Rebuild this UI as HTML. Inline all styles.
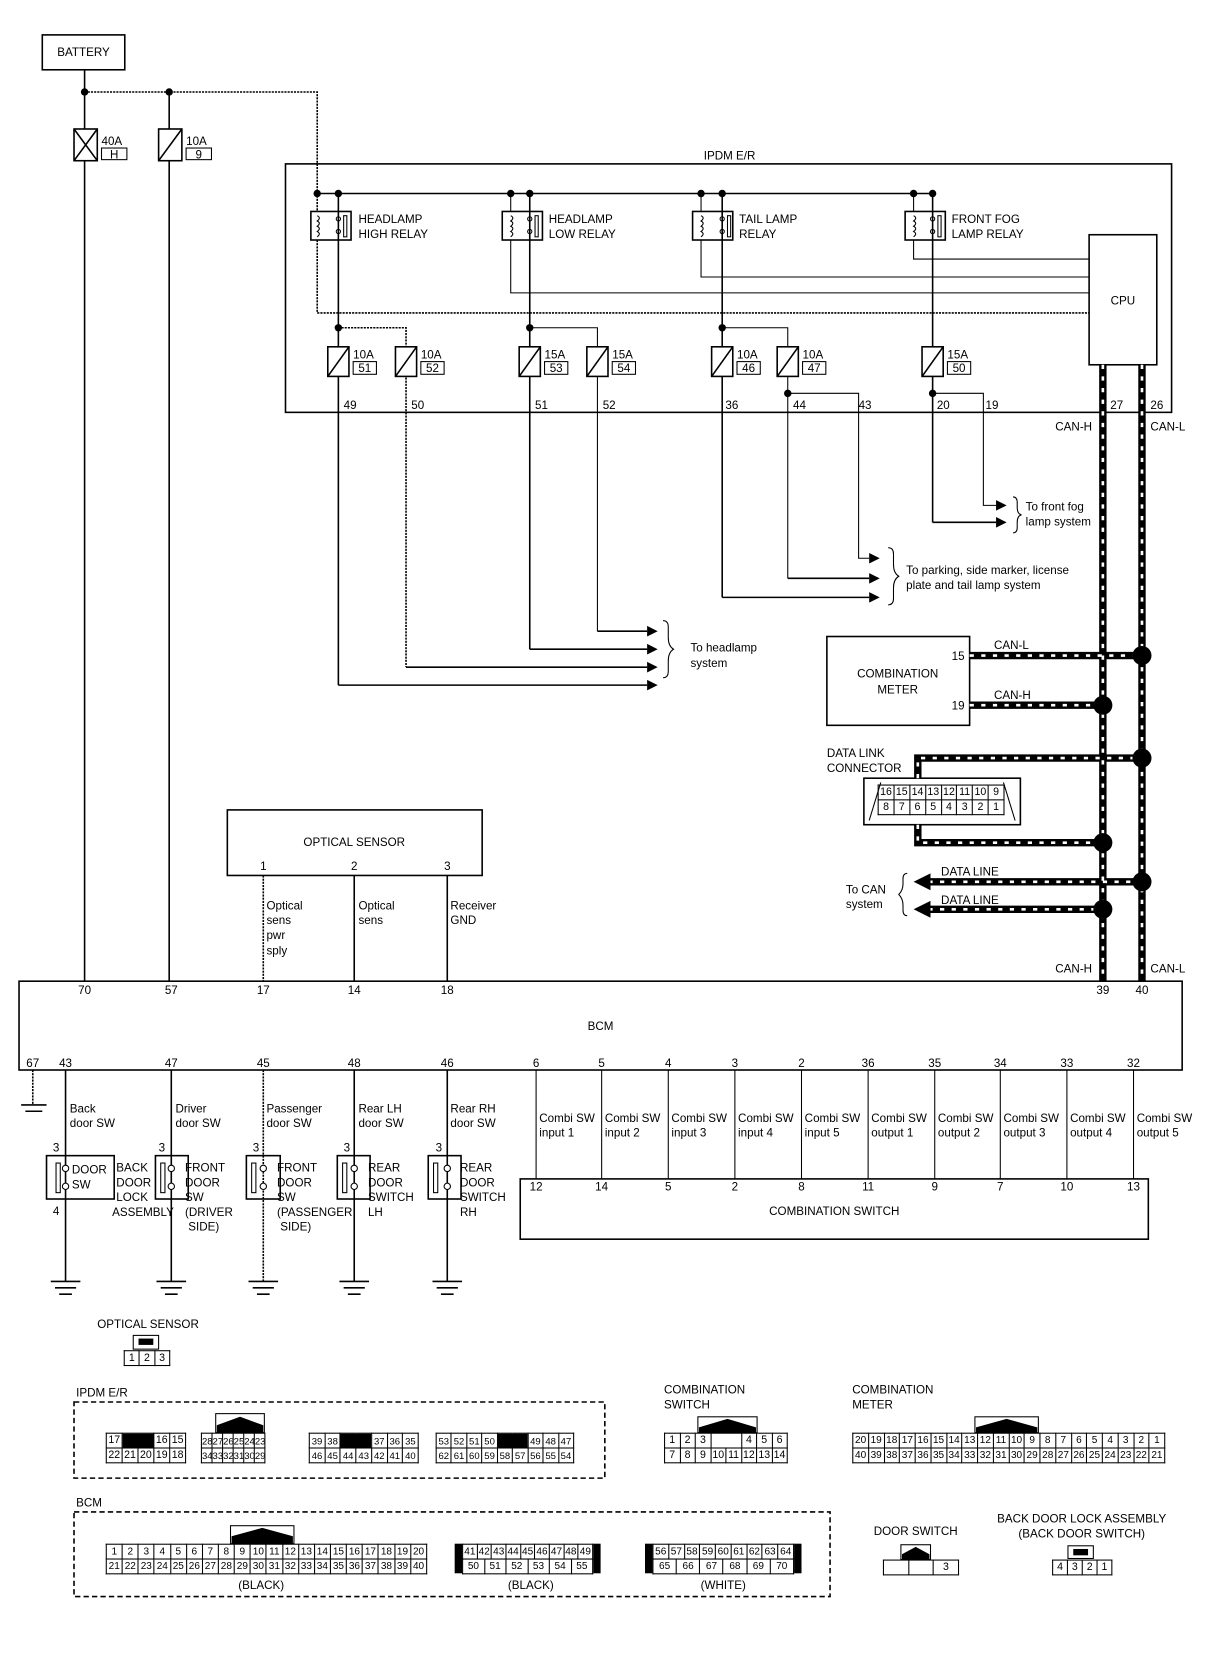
<!DOCTYPE html>
<html><head><meta charset="utf-8"><style>
html,body{margin:0;padding:0;background:#fff;}
#w{position:relative;width:1150px;height:1570px;transform:scale(1.05739,1.05732);transform-origin:0 0;overflow:hidden;font-family:"Liberation Sans",sans-serif;}
svg{position:absolute;left:0;top:0;}
svg text{font-family:"Liberation Sans",sans-serif;font-size:11px;fill:#000;}
table{position:absolute;border-collapse:collapse;table-layout:fixed;font-size:10px;font-family:"Liberation Sans",sans-serif;}
td{border:1px solid #000;text-align:center;padding:0;height:13px;line-height:12px;overflow:hidden;}
td.b{background:#000;}
td.n{border:none;}
</style></head><body><div id="w">
<svg width="1150" height="1570" viewBox="0 0 1150 1570">
<g stroke="#000" fill="none" stroke-width="1.5">
<!-- battery -->
<rect x="40" y="33" width="78" height="33"/>
<line x1="80" y1="66" x2="80" y2="928"/>
<line x1="160" y1="87" x2="160" y2="928"/>
<polyline points="80,87 300,87 300,296 1030,296" stroke-dasharray="2 1"/>
<!-- fuses -->
<rect x="70" y="122" width="22" height="30" fill="#fff"/><line x1="70" y1="122" x2="92" y2="152"/><line x1="92" y1="122" x2="70" y2="152"/>
<rect x="150" y="122" width="22" height="30" fill="#fff"/><line x1="172" y1="122" x2="150" y2="152"/>
<rect x="96" y="140" width="24" height="11" stroke-width="1"/><rect x="176" y="140" width="24" height="11" stroke-width="1"/>
<!-- IPDM -->
<rect x="270" y="155" width="838" height="235"/>
<line x1="300" y1="183" x2="882" y2="183"/>
<polyline points="483,183 483,277 1030,277" stroke-width="1"/>
<polyline points="663,183 663,262 1030,262" stroke-width="1"/>
<polyline points="864,183 864,245 1030,245" stroke-width="1"/>
<rect x="1030" y="222" width="64" height="123"/>
<!-- relays -->
<g fill="#fff">
<rect x="294" y="200" width="38" height="27"/><rect x="475" y="200" width="38" height="27"/>
<rect x="655" y="200" width="38" height="27"/><rect x="856" y="200" width="38" height="27"/>
</g>
<!-- contact wires -->
<line x1="320" y1="183" x2="320" y2="648"/>
<polyline points="320,310 384,310 384,631" stroke-dasharray="2 1"/>
<line x1="501" y1="183" x2="501" y2="614"/>
<polyline points="501,310 565,310 565,597" stroke-width="1"/>
<line x1="683" y1="183" x2="683" y2="565"/>
<polyline points="683,310 745,310 745,547" stroke-width="1"/>
<polyline points="745,372 812,372 812,528 822,528" stroke-width="1"/>
<line x1="882" y1="183" x2="882" y2="494"/>
<polyline points="882,372 930,372 930,478 942,478" stroke-width="1"/>
<line x1="882" y1="494" x2="942" y2="494"/>
<line x1="745" y1="547" x2="822" y2="547"/><line x1="683" y1="565" x2="822" y2="565"/>
<line x1="565" y1="597" x2="612" y2="597"/><line x1="501" y1="614" x2="612" y2="614"/>
<line x1="384" y1="631" x2="612" y2="631"/><line x1="320" y1="648" x2="612" y2="648"/>
<!-- small fuses -->
<g fill="#fff">
<rect x="310" y="328" width="20" height="28"/><rect x="374" y="328" width="20" height="28"/>
<rect x="491" y="328" width="20" height="28"/><rect x="555" y="328" width="20" height="28"/>
<rect x="673" y="328" width="20" height="28"/><rect x="735" y="328" width="20" height="28"/>
<rect x="872" y="328" width="20" height="28"/>
</g>
<line x1="330" y1="328" x2="310" y2="356"/><line x1="394" y1="328" x2="374" y2="356"/>
<line x1="511" y1="328" x2="491" y2="356"/><line x1="575" y1="328" x2="555" y2="356"/>
<line x1="693" y1="328" x2="673" y2="356"/><line x1="755" y1="328" x2="735" y2="356"/>
<line x1="892" y1="328" x2="872" y2="356"/>
<g stroke-width="1">
<rect x="334" y="342" width="22" height="12"/><rect x="398" y="342" width="22" height="12"/>
<rect x="515" y="342" width="22" height="12"/><rect x="579" y="342" width="22" height="12"/>
<rect x="697" y="342" width="22" height="12"/><rect x="759" y="342" width="22" height="12"/>
<rect x="896" y="342" width="22" height="12"/>
</g>
<!-- braces -->
<path d="M627,587 q5,0 5,6 v10 q0,8 5,11 q-5,3 -5,11 v10 q0,6 -5,6" stroke-width="1"/>
<path d="M840,518 q5,0 5,6 v10 q0,8 5,11 q-5,3 -5,11 v10 q0,6 -5,6" stroke-width="1"/>
<path d="M958,470 q4,0 4,5 v5 q0,6 4,7 q-4,1 -4,7 v5 q0,5 -4,5" stroke-width="1"/>
<path d="M858,826 q-4,0 -4,5 v5 q0,6 -4,10 q4,4 4,10 v5 q0,5 4,5" stroke-width="1"/>
<!-- optical sensor -->
<rect x="215" y="766" width="241" height="62"/>
<line x1="249" y1="828" x2="249" y2="928" stroke-dasharray="2 1"/>
<line x1="335" y1="828" x2="335" y2="928"/>
<line x1="423" y1="828" x2="423" y2="928"/>
<!-- comb meter -->
<rect x="782" y="602" width="135" height="84"/>
<rect x="817" y="736" width="148" height="44"/>
<!-- BCM -->
<rect x="18" y="928" width="1100" height="84"/>
<line x1="31" y1="1012" x2="31" y2="1045" stroke-dasharray="2 1"/>
<line x1="20" y1="1045" x2="44" y2="1045"/><line x1="24" y1="1051" x2="40" y2="1051"/>
<!-- door switches -->
<line x1="62" y1="1012" x2="62" y2="1212"/>
<line x1="162" y1="1012" x2="162" y2="1212"/>
<line x1="249" y1="1012" x2="249" y2="1212" stroke-dasharray="2 1"/>
<line x1="335" y1="1012" x2="335" y2="1212"/>
<line x1="423" y1="1012" x2="423" y2="1212"/>
<rect x="44" y="1093" width="64" height="41"/>
<rect x="147" y="1093" width="31" height="41"/>
<rect x="233" y="1093" width="32" height="41"/>
<rect x="319" y="1093" width="31" height="41"/>
<rect x="405" y="1093" width="31" height="41"/>
<g stroke-width="1">
<rect x="53" y="1100" width="4" height="28"/><rect x="152" y="1100" width="4" height="28"/>
<rect x="238" y="1100" width="4" height="28"/><rect x="324" y="1100" width="4" height="28"/>
<rect x="410" y="1100" width="4" height="28"/>
</g>
<g fill="#fff" stroke-width="1">
<circle cx="62" cy="1105" r="3"/><circle cx="62" cy="1122" r="3"/>
<circle cx="162" cy="1105" r="3"/><circle cx="162" cy="1122" r="3"/>
<circle cx="249" cy="1105" r="3"/><circle cx="249" cy="1122" r="3"/>
<circle cx="335" cy="1105" r="3"/><circle cx="335" cy="1122" r="3"/>
<circle cx="423" cy="1105" r="3"/><circle cx="423" cy="1122" r="3"/>
</g>
<g>
<path d="M48,1212h28M52,1218h20M56,1224h12"/><path d="M148,1212h28M152,1218h20M156,1224h12"/>
<path d="M235,1212h28M239,1218h20M243,1224h12"/><path d="M321,1212h28M325,1218h20M329,1224h12"/>
<path d="M409,1212h28M413,1218h20M417,1224h12"/>
</g>
<!-- combination switch -->
<rect x="492" y="1115" width="594" height="57"/>
<path d="M507,1012v103M569,1012v103M632,1012v103M695,1012v103M758,1012v103M821,1012v103M884,1012v103M946,1012v103M1009,1012v103M1072,1012v103" stroke-width="1"/>
<!-- bottom dashed boxes -->
<rect x="70" y="1326" width="502" height="72" stroke-dasharray="5 3"/>
<rect x="70" y="1430" width="715" height="80" stroke-dasharray="5 3"/>
</g>
<!-- relay interiors -->
<g stroke="#000" fill="none" stroke-width="1">
<path d="M300,204 q4,2 0,5 q4,2 0,5 q4,2 0,5 q4,2 0,5"/><circle cx="320" cy="207" r="2"/><circle cx="320" cy="219" r="2"/><rect x="325" y="204" width="3" height="20"/>
<path d="M483,204 q4,2 0,5 q4,2 0,5 q4,2 0,5 q4,2 0,5"/><circle cx="501" cy="207" r="2"/><circle cx="501" cy="219" r="2"/><rect x="506" y="204" width="3" height="20"/>
<path d="M663,204 q4,2 0,5 q4,2 0,5 q4,2 0,5 q4,2 0,5"/><circle cx="683" cy="207" r="2"/><circle cx="683" cy="219" r="2"/><rect x="688" y="204" width="3" height="20"/>
<path d="M864,204 q4,2 0,5 q4,2 0,5 q4,2 0,5 q4,2 0,5"/><circle cx="882" cy="207" r="2"/><circle cx="882" cy="219" r="2"/><rect x="887" y="204" width="3" height="20"/>
<!-- DLC inner -->
<line x1="833" y1="740" x2="822" y2="776"/><line x1="949" y1="740" x2="960" y2="776"/>
</g>
<!-- dots -->
<g fill="#000">
<circle cx="80" cy="87" r="3.5"/><circle cx="160" cy="87" r="3.5"/>
<circle cx="300" cy="183" r="3.5"/><circle cx="320" cy="183" r="3.5"/><circle cx="483" cy="183" r="3.5"/><circle cx="501" cy="183" r="3.5"/>
<circle cx="663" cy="183" r="3.5"/><circle cx="683" cy="183" r="3.5"/><circle cx="864" cy="183" r="3.5"/><circle cx="882" cy="183" r="3.5"/>
<circle cx="320" cy="310" r="3.5"/><circle cx="501" cy="310" r="3.5"/><circle cx="683" cy="310" r="3.5"/>
<circle cx="745" cy="372" r="3.5"/><circle cx="882" cy="372" r="3.5"/>
<path d="M612,592l10,5l-10,5z M612,609l10,5l-10,5z M612,626l10,5l-10,5z M612,643l10,5l-10,5z"/>
<path d="M822,523l10,5l-10,5z M822,542l10,5l-10,5z M822,560l10,5l-10,5z"/>
<path d="M942,473l10,5l-10,5z M942,489l10,5l-10,5z"/>
</g>
<!-- CAN bus -->
<g fill="none">
<g stroke="#000" stroke-width="7">
<path d="M1043,345V928M1080,345V928M917,620H1080M917,667H1043M868,736V717H1080M868,780V797H1043M878,834H1080M878,860H1043"/>
</g>
<g stroke="#fff" stroke-width="2.5" stroke-dasharray="4 7">
<path d="M1043,345V928M1080,345V928M917,620H1080M917,667H1043M868,736V717H1080M868,780V797H1043M878,834H1080M878,860H1043"/>
</g>
</g>
<g fill="#000">
<circle cx="1080" cy="620" r="9"/><circle cx="1043" cy="667" r="9"/><circle cx="1080" cy="717" r="9"/>
<circle cx="1043" cy="797" r="9"/><circle cx="1080" cy="834" r="9"/><circle cx="1043" cy="860" r="9"/>
<path d="M864,834l16,-8v16z M864,860l16,-8v16z"/>
</g>
<!-- text -->
<text x="79" y="53" text-anchor="middle">BATTERY</text>
<text x="96" y="137">40A</text><text x="108" y="150" text-anchor="middle" font-size="10">H</text>
<text x="176" y="137">10A</text><text x="188" y="150" text-anchor="middle" font-size="10">9</text>
<text x="690" y="151" text-anchor="middle">IPDM E/R</text>
<text x="339" y="211">HEADLAMP</text><text x="339" y="225">HIGH RELAY</text>
<text x="519" y="211">HEADLAMP</text><text x="519" y="225">LOW RELAY</text>
<text x="699" y="211">TAIL LAMP</text><text x="699" y="225">RELAY</text>
<text x="900" y="211">FRONT FOG</text><text x="900" y="225">LAMP RELAY</text>
<text x="1062" y="288" text-anchor="middle">CPU</text>
<g font-size="10">
<text x="334" y="339">10A</text><text x="345" y="352" text-anchor="middle">51</text>
<text x="398" y="339">10A</text><text x="409" y="352" text-anchor="middle">52</text>
<text x="515" y="339">15A</text><text x="526" y="352" text-anchor="middle">53</text>
<text x="579" y="339">15A</text><text x="590" y="352" text-anchor="middle">54</text>
<text x="697" y="339">10A</text><text x="708" y="352" text-anchor="middle">46</text>
<text x="759" y="339">10A</text><text x="770" y="352" text-anchor="middle">47</text>
<text x="896" y="339">15A</text><text x="907" y="352" text-anchor="middle">50</text>
</g>
<text x="325" y="387">49</text><text x="389" y="387">50</text><text x="506" y="387">51</text><text x="570" y="387">52</text>
<text x="686" y="387">36</text><text x="750" y="387">44</text><text x="812" y="387">43</text><text x="886" y="387">20</text><text x="932" y="387">19</text>
<text x="1050" y="387">27</text><text x="1088" y="387">26</text>
<text x="998" y="407">CAN-H</text><text x="1088" y="407">CAN-L</text>
<text x="970" y="483">To front fog</text><text x="970" y="497">lamp system</text>
<text x="857" y="543">To parking, side marker, license</text><text x="857" y="557">plate and tail lamp system</text>
<text x="653" y="616">To headlamp</text><text x="653" y="631">system</text>
<text x="849" y="641" text-anchor="middle">COMBINATION</text><text x="849" y="656" text-anchor="middle">METER</text>
<text x="900" y="624">15</text><text x="900" y="671">19</text>
<text x="940" y="614">CAN-L</text><text x="940" y="661">CAN-H</text>
<text x="782" y="716">DATA LINK</text><text x="782" y="730">CONNECTOR</text>
<text x="890" y="828">DATA LINE</text><text x="890" y="855">DATA LINE</text>
<text x="800" y="845">To CAN</text><text x="800" y="859">system</text>
<text x="998" y="920">CAN-H</text><text x="1088" y="920">CAN-L</text>
<text x="335" y="800" text-anchor="middle">OPTICAL SENSOR</text>
<text x="246" y="823">1</text><text x="332" y="823">2</text><text x="420" y="823">3</text>
<text x="252" y="860">Optical</text><text x="252" y="874">sens</text><text x="252" y="888">pwr</text><text x="252" y="903">sply</text>
<text x="339" y="860">Optical</text><text x="339" y="874">sens</text>
<text x="426" y="860">Receiver</text><text x="426" y="874">GND</text>
<g text-anchor="middle">
<text x="80" y="940">70</text><text x="162" y="940">57</text><text x="249" y="940">17</text><text x="335" y="940">14</text><text x="423" y="940">18</text>
<text x="1043" y="940">39</text><text x="1080" y="940">40</text>
<text x="568" y="974">BCM</text>
<text x="31" y="1009">67</text><text x="62" y="1009">43</text><text x="162" y="1009">47</text><text x="249" y="1009">45</text><text x="335" y="1009">48</text><text x="423" y="1009">46</text>
<text x="507" y="1009">6</text><text x="569" y="1009">5</text><text x="632" y="1009">4</text><text x="695" y="1009">3</text><text x="758" y="1009">2</text>
<text x="821" y="1009">36</text><text x="884" y="1009">35</text><text x="946" y="1009">34</text><text x="1009" y="1009">33</text><text x="1072" y="1009">32</text>
<text x="507" y="1126">12</text><text x="569" y="1126">14</text><text x="632" y="1126">5</text><text x="695" y="1126">2</text><text x="758" y="1126">8</text>
<text x="821" y="1126">11</text><text x="884" y="1126">9</text><text x="946" y="1126">7</text><text x="1009" y="1126">10</text><text x="1072" y="1126">13</text>
<text x="789" y="1149">COMBINATION SWITCH</text>
</g>
<g font-size="10.5">
<text x="510" y="1061">Combi SW</text><text x="510" y="1075">input 1</text>
<text x="572" y="1061">Combi SW</text><text x="572" y="1075">input 2</text>
<text x="635" y="1061">Combi SW</text><text x="635" y="1075">input 3</text>
<text x="698" y="1061">Combi SW</text><text x="698" y="1075">input 4</text>
<text x="761" y="1061">Combi SW</text><text x="761" y="1075">input 5</text>
<text x="824" y="1061">Combi SW</text><text x="824" y="1075">output 1</text>
<text x="887" y="1061">Combi SW</text><text x="887" y="1075">output 2</text>
<text x="949" y="1061">Combi SW</text><text x="949" y="1075">output 3</text>
<text x="1012" y="1061">Combi SW</text><text x="1012" y="1075">output 4</text>
<text x="1075" y="1061">Combi SW</text><text x="1075" y="1075">output 5</text>
</g>
<text x="66" y="1052">Back</text><text x="66" y="1066">door SW</text>
<text x="166" y="1052">Driver</text><text x="166" y="1066">door SW</text>
<text x="252" y="1052">Passenger</text><text x="252" y="1066">door SW</text>
<text x="339" y="1052">Rear LH</text><text x="339" y="1066">door SW</text>
<text x="426" y="1052">Rear RH</text><text x="426" y="1066">door SW</text>
<text x="50" y="1089">3</text><text x="150" y="1089">3</text><text x="239" y="1089">3</text><text x="325" y="1089">3</text><text x="412" y="1089">3</text>
<text x="50" y="1149">4</text>
<text x="68" y="1110" font-size="10">DOOR</text><text x="68" y="1124" font-size="10">SW</text>
<g font-size="10.5">
<text x="110" y="1108">BACK</text><text x="110" y="1122">DOOR</text><text x="110" y="1136">LOCK</text><text x="106" y="1150" font-size="9.5">ASSEMBLY</text>
<text x="175" y="1108">FRONT</text><text x="175" y="1122">DOOR</text><text x="175" y="1136">SW</text><text x="175" y="1150">(DRIVER</text><text x="178" y="1164">SIDE)</text>
<text x="262" y="1108">FRONT</text><text x="262" y="1122">DOOR</text><text x="262" y="1136">SW</text><text x="262" y="1150">(PASSENGER</text><text x="265" y="1164">SIDE)</text>
<text x="348" y="1108">REAR</text><text x="348" y="1122">DOOR</text><text x="348" y="1136">SWITCH</text><text x="348" y="1150">LH</text>
<text x="435" y="1108">REAR</text><text x="435" y="1122">DOOR</text><text x="435" y="1136">SWITCH</text><text x="435" y="1150">RH</text>
</g>
<!-- connector labels -->
<text x="140" y="1256" text-anchor="middle">OPTICAL SENSOR</text>
<text x="72" y="1321">IPDM E/R</text>
<text x="72" y="1425">BCM</text>
<text x="628" y="1318">COMBINATION</text><text x="628" y="1332">SWITCH</text>
<text x="806" y="1318">COMBINATION</text><text x="806" y="1332">METER</text>
<text x="866" y="1452" text-anchor="middle">DOOR SWITCH</text>
<text x="1023" y="1440" text-anchor="middle">BACK DOOR LOCK ASSEMBLY</text><text x="1023" y="1454" text-anchor="middle">(BACK DOOR SWITCH)</text>
<text x="247" y="1503" text-anchor="middle">(BLACK)</text><text x="502" y="1503" text-anchor="middle">(BLACK)</text><text x="684" y="1503" text-anchor="middle">(WHITE)</text>
<!-- tabs -->
<g stroke="#000" stroke-width="1" fill="#fff">
<rect x="126" y="1263" width="24" height="13"/><rect x="204" y="1337" width="46" height="18"/>
<rect x="218" y="1443" width="60" height="17"/><rect x="660" y="1340" width="56" height="15"/>
<rect x="922" y="1340" width="60" height="15"/><rect x="852" y="1461" width="28" height="14"/>
<rect x="1010" y="1462" width="24" height="12"/>
</g>
<g fill="#000">
<rect x="131" y="1266" width="14" height="6"/>
<path d="M205,1348 L227,1340 L249,1348 V1355 H205Z M219,1453 L248,1445 L277,1453 V1460 H219Z M661,1350 L688,1342 L715,1350 V1355 H661Z M923,1350 L952,1342 L981,1350 V1355 H923Z M853,1470 L866,1463 L879,1470 V1475 H853Z"/>
<rect x="1015" y="1465" width="14" height="6"/>
<rect x="430" y="1460" width="7" height="28"/><rect x="561" y="1460" width="7" height="28"/>
<rect x="610" y="1460" width="7" height="28"/><rect x="751" y="1460" width="7" height="28"/>
</g>
</svg>
<!-- DLC grid -->
<table style="left:830px;top:742px;width:120px;font-size:10px"><tr><td>16</td><td>15</td><td>14</td><td>13</td><td>12</td><td>11</td><td>10</td><td>9</td></tr><tr><td>8</td><td>7</td><td>6</td><td>5</td><td>4</td><td>3</td><td>2</td><td>1</td></tr></table>
<table style="left:117px;top:1277px;width:44px"><tr><td>1</td><td>2</td><td>3</td></tr></table>
<table style="left:100px;top:1355px;width:76px"><tr><td>17</td><td class="b" colspan="2"></td><td>16</td><td>15</td></tr><tr><td>22</td><td>21</td><td>20</td><td>19</td><td>18</td></tr></table>
<table style="left:190px;top:1355px;width:61px;font-size:9px"><tr><td>28</td><td>27</td><td>26</td><td>25</td><td>24</td><td>23</td></tr><tr><td>34</td><td>33</td><td>32</td><td>31</td><td>30</td><td>29</td></tr></table>
<table style="left:292px;top:1355px;width:104px;font-size:9px"><tr><td>39</td><td>38</td><td class="b" colspan="2"></td><td>37</td><td>36</td><td>35</td></tr><tr><td>46</td><td>45</td><td>44</td><td>43</td><td>42</td><td>41</td><td>40</td></tr></table>
<table style="left:412px;top:1355px;width:131px;font-size:9px"><tr><td>53</td><td>52</td><td>51</td><td>50</td><td class="b" colspan="2"></td><td>49</td><td>48</td><td>47</td></tr><tr><td>62</td><td>61</td><td>60</td><td>59</td><td>58</td><td>57</td><td>56</td><td>55</td><td>54</td></tr></table>
<table style="left:100px;top:1460px;width:304px;font-size:9.5px"><tr><td>1</td><td>2</td><td>3</td><td>4</td><td>5</td><td>6</td><td>7</td><td>8</td><td>9</td><td>10</td><td>11</td><td>12</td><td>13</td><td>14</td><td>15</td><td>16</td><td>17</td><td>18</td><td>19</td><td>20</td></tr><tr><td>21</td><td>22</td><td>23</td><td>24</td><td>25</td><td>26</td><td>27</td><td>28</td><td>29</td><td>30</td><td>31</td><td>32</td><td>33</td><td>34</td><td>35</td><td>36</td><td>37</td><td>38</td><td>39</td><td>40</td></tr></table>
<table style="left:437px;top:1460px;width:124px;font-size:9.5px"><tr><td>41</td><td>42</td><td>43</td><td>44</td><td>45</td><td>46</td><td>47</td><td>48</td><td>49</td></tr></table>
<table style="left:437px;top:1474px;width:124px;font-size:9.5px"><tr><td>50</td><td>51</td><td>52</td><td>53</td><td>54</td><td>55</td></tr></table>
<table style="left:617px;top:1460px;width:134px;font-size:9.5px"><tr><td>56</td><td>57</td><td>58</td><td>59</td><td>60</td><td>61</td><td>62</td><td>63</td><td>64</td></tr></table>
<table style="left:617px;top:1474px;width:134px;font-size:9.5px"><tr><td>65</td><td>66</td><td>67</td><td>68</td><td>69</td><td>70</td></tr></table>
<table style="left:628px;top:1355px;width:117px"><tr><td>1</td><td>2</td><td>3</td><td colspan="2"></td><td>4</td><td>5</td><td>6</td></tr><tr><td>7</td><td>8</td><td>9</td><td>10</td><td>11</td><td>12</td><td>13</td><td>14</td></tr></table>
<table style="left:806px;top:1355px;width:296px;font-size:9.5px"><tr><td>20</td><td>19</td><td>18</td><td>17</td><td>16</td><td>15</td><td>14</td><td>13</td><td>12</td><td>11</td><td>10</td><td>9</td><td>8</td><td>7</td><td>6</td><td>5</td><td>4</td><td>3</td><td>2</td><td>1</td></tr><tr><td>40</td><td>39</td><td>38</td><td>37</td><td>36</td><td>35</td><td>34</td><td>33</td><td>32</td><td>31</td><td>30</td><td>29</td><td>28</td><td>27</td><td>26</td><td>25</td><td>24</td><td>23</td><td>22</td><td>21</td></tr></table>
<table style="left:835px;top:1475px;width:72px"><tr><td></td><td></td><td>3</td></tr></table>
<table style="left:995px;top:1475px;width:57px"><tr><td>4</td><td>3</td><td>2</td><td>1</td></tr></table>
</div></body></html>
